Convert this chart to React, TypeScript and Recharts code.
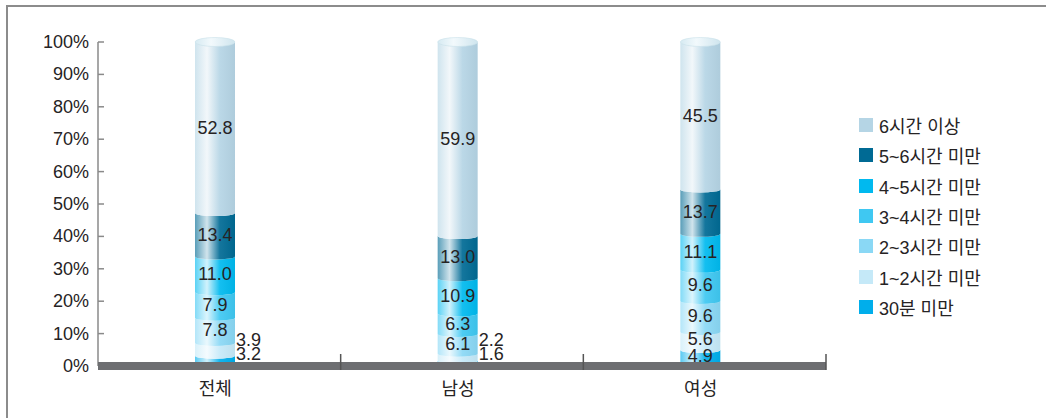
import { Bar, BarChart, LabelList, XAxis, YAxis } from "recharts";

const categories = ["전체", "남성", "여성"];
const seriesNames = ["30분 미만", "1~2시간 미만", "2~3시간 미만", "3~4시간 미만", "4~5시간 미만", "5~6시간 미만", "6시간 이상"];
const seriesKeys = ["under30", "h1to2", "h2to3", "h3to4", "h4to5", "h5to6", "h6plus"];
const seriesColors = ["#00aeeb", "#c5e9f8", "#8ad8f5", "#3fc8f2", "#00b9ef", "#006a94", "#b5d5e5"];

const under30 = [3.2, 1.6, 4.9];
const h1to2 = [3.9, 2.2, 5.6];
const h2to3 = [7.8, 6.1, 9.6];
const h3to4 = [7.9, 6.3, 9.6];
const h4to5 = [11.0, 10.9, 11.1];
const h5to6 = [13.4, 13.0, 13.7];
const h6plus = [52.8, 59.9, 45.5];
const yTicks = [0, 10, 20, 30, 40, 50, 60, 70, 80, 90, 100];

const seriesValues = [under30, h1to2, h2to3, h3to4, h4to5, h5to6, h6plus];
const data = categories.map((name, i) => {
  const row: Record<string, string | number> = { name };
  seriesKeys.forEach((k, s) => (row[k] = seriesValues[s][i]));
  return row;
});

const W = 1046;
const H = 418;
const MARGIN = { top: 42, right: 220, left: 0, bottom: 0 };
const Y_AXIS_W = 98;
const X_AXIS_H = 52;
const BASE_Y = H - X_AXIS_H;
const BAND = (W - MARGIN.right - Y_AXIS_W) / categories.length;
const SHIFT = -4; // cylinders sit a little left of the band centre
const FONT = '"Liberation Sans Narrow", "Liberation Sans", "Noto Sans CJK KR", sans-serif';
const TEXT = "#262324";
const ARC_RY = 3;

function mix(hex: string, to: string, t: number) {
  const a = parseInt(hex.slice(1), 16);
  const b = parseInt(to.slice(1), 16);
  const ch = (v: number, sh: number) => (v >> sh) & 255;
  const c = [16, 8, 0].map((sh) => Math.round(ch(a, sh) + (ch(b, sh) - ch(a, sh)) * t));
  return "#" + c.map((v) => v.toString(16).padStart(2, "0")).join("");
}

function Segment(props: any) {
  const { x, y, width, height, si } = props;
  if (!height || height <= 0) return null;
  const xs = x + SHIFT;
  const rx = width / 2;
  const d = `M${xs},${y} A${rx},${ARC_RY} 0 0 0 ${xs + width},${y} L${xs + width},${y + height} A${rx},${ARC_RY} 0 0 1 ${xs},${y + height} Z`;
  return (
    <g>
      <path d={d} fill={`url(#cyl${si})`} />
      {si === seriesKeys.length - 1 && (
        <ellipse cx={xs + rx} cy={y} rx={rx} ry={4.5} fill="url(#cylCap)" stroke="#c9e0ea" strokeWidth={0.6} />
      )}
    </g>
  );
}

function SegmentLabel(props: any) {
  const { x, y, width, height, value, si } = props;
  const xs = x + SHIFT;
  const txt = Number(value).toFixed(1);
  // thin slices get their value written beside the cylinder, stacked upward
  if (value < 4.5) {
    const ly = BASE_Y - (si === 0 ? 12 : 26);
    return (
      <text x={xs + width + 1} y={ly} dominantBaseline="central" textAnchor="start" fill={TEXT} fontSize={18} fontFamily={FONT}>
        {txt}
      </text>
    );
  }
  const cy = y + height / 2;
  return (
    <text x={xs + width / 2} y={cy - (value < 6 ? 2 : 0)} dominantBaseline="central" textAnchor="middle" fill={TEXT} fontSize={18} fontFamily={FONT}>
      {txt}
    </text>
  );
}

function YTick(props: any) {
  const { x, y, payload } = props;
  return (
    <g>
      {payload.value !== 0 && <line x1={x} x2={x + 6} y1={y} y2={y} stroke="#8a8a8a" strokeWidth={1.5} />}
      <text x={x - 9} y={y} dominantBaseline="central" textAnchor="end" fill={TEXT} fontSize={18} fontFamily={FONT}>
        {`${payload.value}%`}
      </text>
    </g>
  );
}

function XTick(props: any) {
  const { x, y, payload } = props;
  const edge = x + BAND / 2;
  return (
    <g>
      <line x1={edge} x2={edge} y1={y - 12} y2={y + 4} stroke="#555" strokeWidth={1.5} />
      <text x={x + SHIFT} y={y + 23} dominantBaseline="central" textAnchor="middle" fill={TEXT} fontSize={18} fontFamily={FONT}>
        {payload.value}
      </text>
    </g>
  );
}

export default function App() {
  return (
    <div style={{ position: "absolute", left: 0, top: 0, width: W, height: H, background: "#fff", overflow: "hidden" }}>
      <div style={{ position: "absolute", left: 6, top: 5, width: W, height: H, borderLeft: "2px solid #8c8c8c", borderTop: "2px solid #8c8c8c" }} />
      <BarChart width={W} height={H} data={data} margin={MARGIN} barSize={40}>
        <defs>
          {seriesColors.map((c, i) => (
            <linearGradient key={i} id={`cyl${i}`} x1="0" y1="0" x2="1" y2="0">
              <stop offset="0" stopColor={mix(c, "#ffffff", 0.35)} />
              <stop offset="0.3" stopColor={mix(c, "#ffffff", 0.82)} />
              <stop offset="0.62" stopColor={mix(c, "#ffffff", 0.08)} />
              <stop offset="1" stopColor={mix(c, "#000000", 0.04)} />
            </linearGradient>
          ))}
          <linearGradient id="cylCap" x1="0" y1="0" x2="1" y2="0">
            <stop offset="0" stopColor="#d6eaf2" />
            <stop offset="0.4" stopColor="#f2f9fc" />
            <stop offset="1" stopColor="#cfe5ee" />
          </linearGradient>
        </defs>
        <YAxis
          width={Y_AXIS_W}
          domain={[0, 100]}
          ticks={yTicks}
          interval={0}
          tickSize={0}
          tickMargin={0}
          tickLine={false}
          axisLine={{ stroke: "#8a8a8a", strokeWidth: 1.5 }}
          tick={<YTick />}
        />
        <XAxis
          dataKey="name"
          height={X_AXIS_H}
          tickSize={0}
          tickMargin={0}
          tickLine={false}
          axisLine={{ stroke: "#6d6e71", strokeWidth: 8 }}
          tick={<XTick />}
        />
        {seriesKeys.map((k, i) => (
          <Bar key={k} dataKey={k} name={seriesNames[i]} stackId="t" fill={seriesColors[i]} isAnimationActive={false} shape={(p: any) => <Segment {...p} si={i} />}>
            <LabelList dataKey={k} content={(p: any) => <SegmentLabel {...p} si={i} />} />
          </Bar>
        ))}
      </BarChart>
      <div style={{ position: "absolute", left: 859, top: 110, fontFamily: FONT, fontSize: 18, color: TEXT }}>
        {seriesNames
          .map((n, i) => ({ n, c: seriesColors[i] }))
          .reverse()
          .map(({ n, c }) => (
            <div key={n} style={{ display: "flex", alignItems: "center", height: 30.3 }}>
              <span style={{ display: "inline-block", width: 14, height: 14, background: c, marginRight: 6 }} />
              <span>{n}</span>
            </div>
          ))}
      </div>
    </div>
  );
}
